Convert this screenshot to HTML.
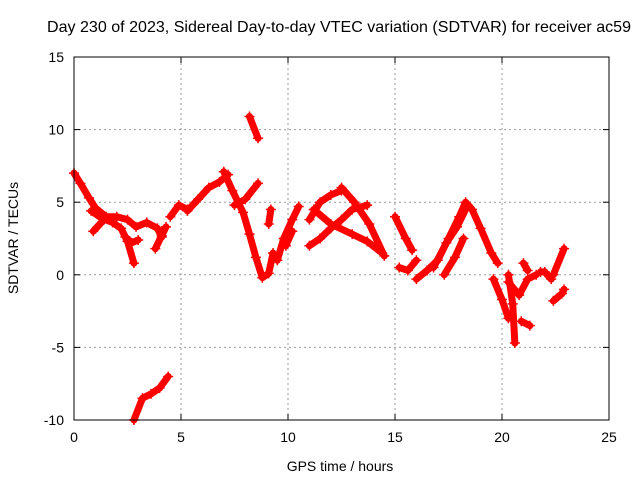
<!DOCTYPE html>
<html><head><meta charset="utf-8"><style>
body{margin:0;background:#fff}
svg{display:block;font-family:"Liberation Sans",sans-serif}
</style></head><body>
<svg id="chart" width="640" height="480">
<rect width="640" height="480" fill="#fff"/>
<text x="339" y="32" font-size="16" text-anchor="middle" textLength="584" lengthAdjust="spacingAndGlyphs">Day 230 of 2023, Sidereal Day-to-day VTEC variation (SDTVAR) for receiver ac59</text>
<text x="340" y="471" font-size="14" text-anchor="middle">GPS time / hours</text>
<text x="18" y="238" font-size="14" text-anchor="middle" transform="rotate(-90 18 238)">SDTVAR / TECUs</text>
<g id="grid"></g><g id="ticks"></g><g id="series"></g>
<rect x="74" y="57" width="535" height="363" fill="none" stroke="#000" stroke-width="1"/>
</svg>
<script>
const xTicks=[0,5,10,15,20,25];
const yTicks=[-10,-5,0,5,10,15];
const tracks=[
[[0,7.0],[0.3,6.3],[0.7,5.3],[1.0,4.6],[1.5,4.0],[2.0,4.0],[2.5,3.8],[2.9,3.3],[3.4,3.6],[3.9,3.2],[4.1,2.6]],
[[0.8,4.4],[1.3,3.9],[1.8,3.6],[2.2,3.2],[2.5,2.3],[2.8,0.8]],
[[0.9,3.0],[1.4,3.8]],
[[2.4,2.6],[2.7,2.2],[3.0,2.4]],
[[3.8,1.8],[4.1,2.7],[4.3,3.3]],
[[4.5,4.0],[4.9,4.8],[5.3,4.5]],
[[5.3,4.4],[5.8,5.2],[6.3,6.0],[6.8,6.4],[7.2,6.9]],
[[7.0,7.1],[7.4,5.8],[7.9,4.3],[8.2,2.8],[8.5,1.2],[8.8,-0.2],[9.1,0.1],[9.3,1.5]],
[[7.5,4.8],[8.0,5.2],[8.6,6.3]],
[[8.2,10.9],[8.6,9.4]],
[[9.1,3.5],[9.2,4.5]],
[[9.5,1.0],[9.8,2.5],[10.2,3.8],[10.5,4.7]],
[[9.9,2.0],[10.2,3.0]],
[[11,3.8],[11.5,5.0],[12,5.5],[12.5,5.8]],
[[11.2,4.5],[12,3.5],[13,2.8],[13.7,2.3],[14.4,1.5]],
[[12.5,6.0],[13.1,5.0],[13.8,3.5],[14.5,1.3]],
[[11.5,2.5],[12,3.2],[12.5,3.8],[13,4.5],[13.7,4.8]],
[[11,2.0],[11.5,2.5]],
[[15,4.0],[15.5,2.5],[15.8,1.7]],
[[15.2,0.5],[15.6,0.3],[16,1.0]],
[[16,-0.3],[16.5,0.3],[17,1.0],[17.5,2.5],[18,4.0],[18.3,5.0],[18.6,4.5],[19,3.2],[19.5,1.5],[19.8,0.8]],
[[16.8,0.5],[17.4,2.2],[17.9,3.3],[18.3,4.5]],
[[17.3,0.0],[17.8,1.2],[18.2,2.5]],
[[19.6,-0.3],[20.0,-1.7],[20.3,-3.0]],
[[20.3,0.0],[20.5,-2.0],[20.6,-4.7]],
[[20.3,-0.5],[20.8,-1.4],[21.2,-0.3],[21.6,0.0]],
[[21.0,0.8],[21.2,0.3]],
[[21.8,0.2],[22,0.2],[22.3,-0.3]],
[[22.4,0.0],[22.9,1.8]],
[[22.4,-1.8],[22.8,-1.3],[22.9,-1.0]],
[[20.9,-3.2],[21.3,-3.5]],
[[2.8,-10],[3.2,-8.5],[3.6,-8.2],[4.0,-7.8],[4.4,-7.0]]
];
const NS="http://www.w3.org/2000/svg";
const X0=74,X1=609,Y0=420,Y1=57;
function sx(v){return X0+(v-0)/(25-0)*(X1-X0);}
function sy(v){return Y0-(v+10)/(25)*(Y0-Y1);}
function mk(t,a){const e=document.createElementNS(NS,t);for(const k in a)e.setAttribute(k,a[k]);return e;}
const g=document.getElementById('grid'),tk=document.getElementById('ticks'),s=document.getElementById('series');
xTicks.forEach(v=>{
 if(v>0&&v<25){const l=mk('line',{x1:sx(v),x2:sx(v),y1:Y0,y2:Y1,stroke:'#999','stroke-dasharray':'2,3'});
 
 g.appendChild(l);}
 tk.appendChild(mk('line',{x1:sx(v),x2:sx(v),y1:Y0,y2:Y0-6,stroke:'#000'}));
 tk.appendChild(mk('line',{x1:sx(v),x2:sx(v),y1:Y1,y2:Y1+6,stroke:'#000'}));
 const tx=mk('text',{x:sx(v),y:Y0+22,'font-size':14,'text-anchor':'middle'});tx.textContent=v;
 
 tk.appendChild(tx);
});
yTicks.forEach(v=>{
 if(v>-10&&v<15){const l=mk('line',{x1:X0,x2:X1,y1:sy(v),y2:sy(v),stroke:'#999','stroke-dasharray':'2,3'});
 
 g.appendChild(l);}
 tk.appendChild(mk('line',{x1:X0,x2:X0+6,y1:sy(v),y2:sy(v),stroke:'#000'}));
 tk.appendChild(mk('line',{x1:X1,x2:X1-6,y1:sy(v),y2:sy(v),stroke:'#000'}));
 const tx=mk('text',{x:X0-10,y:sy(v)+5,'font-size':14,'text-anchor':'end'});tx.textContent=v;
 
 tk.appendChild(tx);
});
tracks.forEach(tr=>{
 const p=mk('polyline',{points:tr.map(d=>sx(d[0])+','+sy(d[1])).join(' '),fill:'none',stroke:'#f00','stroke-width':7,'stroke-linejoin':'round','stroke-linecap':'round'});
 
 
 s.appendChild(p);
 tr.forEach(d=>{
  const c=mk('path',{d:`M${sx(d[0])-5},${sy(d[1])}h10M${sx(d[0])},${sy(d[1])-5}v10`,stroke:'#f00','stroke-width':1.5});
  
  
  s.appendChild(c);
 });
});
</script>
</body></html>
